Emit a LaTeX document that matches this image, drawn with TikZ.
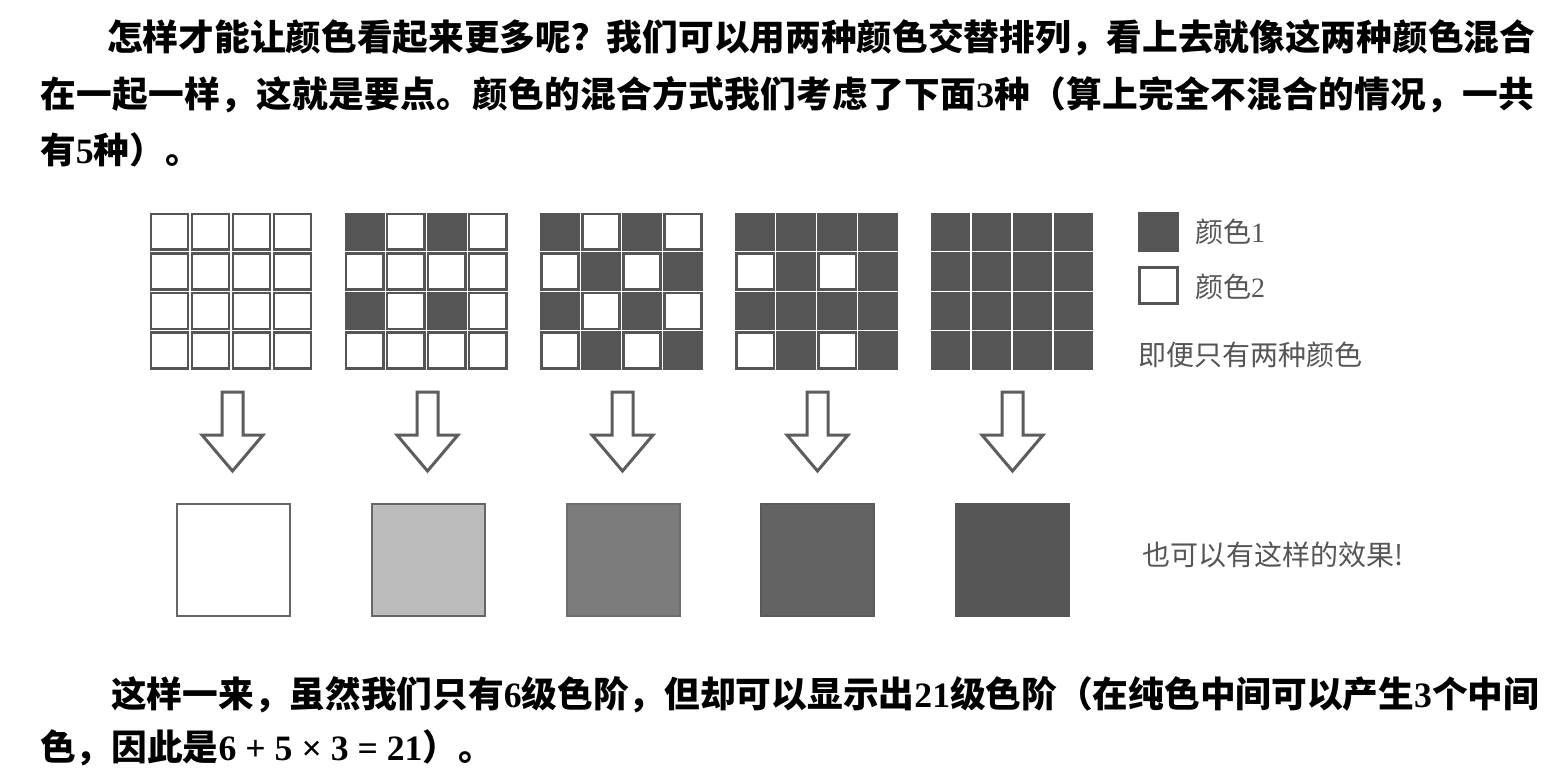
\documentclass[tikz,border=0pt]{standalone}
\usepackage{fontspec}
\newfontfamily\cjk{Noto Sans CJK SC}
\newfontfamily\cjkwide{Noto Sans CJK SC}[LetterSpace=0.9]
\newfontfamily\dig{Liberation Serif}
\definecolor{ink}{HTML}{555555}
\definecolor{labink}{HTML}{555555}
\definecolor{sqA}{HTML}{BCBCBC}
\definecolor{sqB}{HTML}{7C7C7C}
\definecolor{sqC}{HTML}{636363}
\begin{document}
\begin{tikzpicture}[x=1pt,y=-1pt,
  para/.style={inner sep=0pt, anchor=west, text=black, font=\cjk\bfseries\fontsize{35.7}{38}\selectfont},
  lab/.style={inner sep=0pt, anchor=west, text=labink, font=\cjk\fontsize{28}{30}\selectfont},
  cellw/.style={draw=ink, fill=white, line width=2.6pt},
  celld/.style={draw=ink, fill=ink, line width=2.6pt},
  arrowbox/.style={draw=ink!95, fill=white, line width=3pt, line join=miter},
  sqbox/.style={line width=2pt}]
\fill[white] (0,0) rectangle (1556,774);
\useasboundingbox (0,0) rectangle (1556,774);

% top paragraph
\node[para] (p1) at (107,38) {怎样才能让颜色看起来更多呢？我们可以用两种颜色交替排列，看上去就像这两种颜色混合};
\node[para] (p2) at (40,95) {\cjkwide\bfseries 在一起一样，这就是要点。颜色的混合方式我们考虑了下面{\dig 3}种（算上完全不混合的情况，一共};
\node[para] (p3) at (40,150) {有{\dig 5}种）。};

% grids: all cells white first
\foreach \g in {0,...,4}{
  \foreach \r in {0,...,3}{
    \foreach \c in {0,...,3}{
      \pgfmathsetmacro\xa{149+195.25*\g+41*\c}
      \pgfmathsetmacro\ya{212+39.6*\r}
      \draw[cellw] (\xa+1.9,\ya+1.9) rectangle (\xa+39.1,\ya+37.7);
    }
  }
}
% dark cells
\foreach \g/\r/\c in {1/0/0,1/0/2,1/2/0,1/2/2,
  2/0/0,2/0/2,2/1/1,2/1/3,2/2/0,2/2/2,2/3/1,2/3/3,
  3/0/0,3/0/1,3/0/2,3/0/3,3/1/1,3/1/3,3/2/0,3/2/1,3/2/2,3/2/3,3/3/1,3/3/3}{
  \pgfmathsetmacro\xa{149+195.25*\g+41*\c}
  \pgfmathsetmacro\ya{212+39.6*\r}
  \draw[celld] (\xa+1.9,\ya+1.9) rectangle (\xa+39.1,\ya+37.7);
}
\foreach \r in {0,...,3}{
  \foreach \c in {0,...,3}{
    \pgfmathsetmacro\xa{149+195.25*4+41*\c}
    \pgfmathsetmacro\ya{212+39.6*\r}
    \draw[celld] (\xa+1.9,\ya+1.9) rectangle (\xa+39.1,\ya+37.7);
  }
}

% legend
\draw[celld, line width=1pt] (1138.5,212.5) rectangle (1178.5,251.5);
\node[lab] (l1) at (1195,232) {颜色{\dig 1}};
\draw[cellw, line width=2.8pt] (1139.5,267.5) rectangle (1177.5,303.5);
\node[lab] (l2) at (1195,287) {颜色{\dig 2}};
\node[lab] (l3) at (1138,355) {即便只有两种颜色};

% arrows
\foreach \i in {0,...,4}{
  \pgfmathsetmacro\cx{232.5+195*\i}
  \draw[arrowbox] (\cx-10.5,392) -- (\cx+10.5,392) -- (\cx+10.5,435) -- (\cx+30.5,435)
    -- (\cx,471) -- (\cx-30.5,435) -- (\cx-10.5,435) -- cycle;
}

% result squares
\draw[sqbox, draw=ink!90, fill=white] (177,504) rectangle (290,616);
\draw[sqbox, draw=ink!90, fill=sqA] (371.75,504) rectangle (484.75,616);
\draw[sqbox, draw=ink!85, fill=sqB] (566.5,504) rectangle (679.5,616);
\draw[sqbox, draw=sqC!90!black, fill=sqC] (761.25,504) rectangle (874.25,616);
\draw[sqbox, draw=ink, fill=ink] (956,504) rectangle (1069,616);
\node[lab] (l4) at (1142,555) {也可以有这样的效果!};

% bottom paragraph
\node[para] (q1) at (111,695) {这样一来，虽然我们只有{\dig 6}级色阶，但却可以显示出{\dig 21}级色阶（在纯色中间可以产生{\dig 3}个中间};
\node[para] (q2) at (40,748) {色，因此是{\dig 6 + 5 × 3 = 21}）。};
\end{tikzpicture}
\end{document}
